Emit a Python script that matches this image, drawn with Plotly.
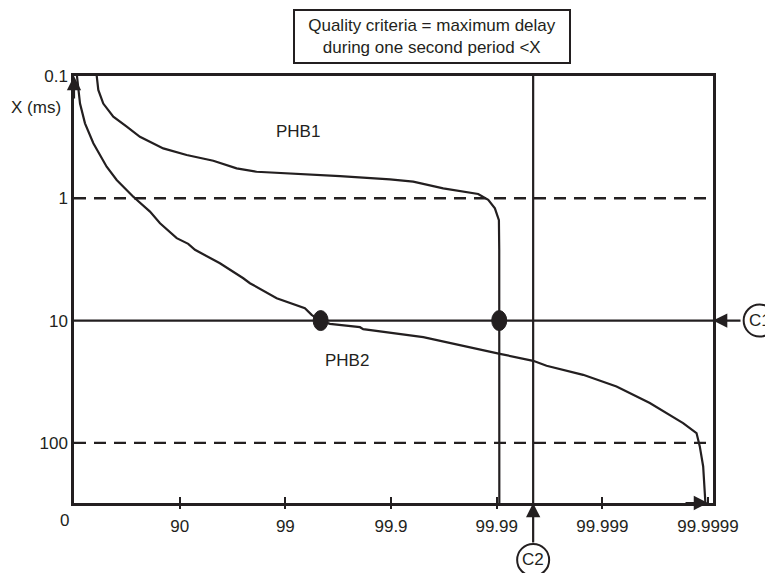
import math
import plotly.graph_objects as go

# ---- data (x in "nines": 0 -> 0 %, 1 -> 90 %, 2 -> 99 %, ... 6 -> 99.9999 %) ----
tick_nines = [1, 2, 3, 4, 5, 6]
tick_labels = ["90", "99", "99.9", "99.99", "99.999", "99.9999"]
y_ticks = [0.1, 1, 10, 100]
y_labels = ["0.1", "1", "10", "100"]

phb1_nines = [0.215, 0.230, 0.277, 0.372, 0.499, 0.624, 0.845, 1.066, 1.318, 1.539,
              1.728, 2.044, 2.517, 2.990, 3.210, 3.494, 3.683, 3.825, 3.920, 3.983,
              4.021, 4.024, 4.025]
phb1_delay = [0.1, 0.130, 0.168, 0.215, 0.260, 0.314, 0.391, 0.443, 0.493, 0.569,
              0.607, 0.625, 0.658, 0.700, 0.732, 0.829, 0.883, 0.922, 1.03, 1.21,
              1.51, 2.64, 310]

phb2_nines = [0.028, 0.057, 0.104, 0.183, 0.309, 0.404, 0.561, 0.577, 0.719, 0.814,
              0.972, 1.081, 1.145, 1.381, 1.602, 1.665, 1.918, 2.107, 2.185, 2.249,
              2.327, 2.422, 2.706, 2.737, 3.305, 4.030, 4.345, 4.472, 4.818, 5.134,
              5.449, 5.764, 5.891, 5.922, 5.954, 5.975]
phb2_delay = [0.1, 0.168, 0.244, 0.355, 0.552, 0.708, 0.970, 1.0, 1.285, 1.60,
              2.12, 2.36, 2.64, 3.40, 4.51, 4.95, 6.56, 7.44, 7.93, 8.98,
              10.0, 10.64, 11.33, 11.76, 13.67, 18.71, 21.34, 23.44, 27.78, 34.6,
              47.3, 68.9, 83.2, 107, 156, 310]

crossing_nines = [2.334, 4.024]
crossing_delay = [10, 10]

c1_delay = 10          # quality criterion X (ms)
c2_nines = 4.345       # required percentile
dashed_levels = [1, 100]

INK = "#231f20"
FONT = "Liberation Sans, Arial, sans-serif"
Y_RANGE = [2.492, -1]   # log10 range, reversed (0.1 ms at top)


def y_paper(v):
    return (math.log10(v) - Y_RANGE[0]) / (Y_RANGE[1] - Y_RANGE[0])


fig = go.Figure()
for xs, ys in [(phb1_nines, phb1_delay), (phb2_nines, phb2_delay)]:
    fig.add_trace(go.Scatter(x=xs, y=ys, mode="lines",
                             line=dict(color=INK, width=2.2), hoverinfo="skip"))

shapes = []
for lv in dashed_levels:
    shapes.append(dict(type="line", xref="paper", x0=0, x1=1, yref="y", y0=lv, y1=lv,
                       line=dict(color=INK, width=2.4, dash="12px,8px")))
shapes.append(dict(type="line", xref="paper", x0=0, x1=1, yref="y", y0=c1_delay, y1=c1_delay,
                   line=dict(color=INK, width=2.2)))
shapes.append(dict(type="line", xref="x", x0=c2_nines, x1=c2_nines, yref="paper", y0=0, y1=1,
                   line=dict(color=INK, width=2.2)))
for cx, cy in zip(crossing_nines, crossing_delay):
    shapes.append(dict(type="circle", xref="x", yref="paper", xsizemode="pixel", ysizemode="pixel",
                       xanchor=cx, yanchor=y_paper(cy), x0=-7.5, x1=7.5, y0=-10, y1=10,
                       fillcolor=INK, line=dict(color=INK, width=1)))
# C1 / C2 circles
C1_X = 1.073
C2_Y = -0.1334
shapes.append(dict(type="circle", xref="paper", yref="paper", xsizemode="pixel", ysizemode="pixel",
                   xanchor=C1_X, yanchor=y_paper(c1_delay), x0=-16, x1=16, y0=-16, y1=16,
                   line=dict(color=INK, width=2), fillcolor="white"))
shapes.append(dict(type="circle", xref="x", yref="paper", xsizemode="pixel", ysizemode="pixel",
                   xanchor=c2_nines, yanchor=C2_Y, x0=-16, x1=16, y0=-16, y1=16,
                   line=dict(color=INK, width=2), fillcolor="white"))

f17 = dict(family=FONT, size=17, color=INK)
arrow = dict(text="", showarrow=True, arrowhead=2, arrowsize=1.3, arrowwidth=2.2, arrowcolor=INK)
txt = dict(showarrow=False, font=f17, yanchor="middle")
ann = [
    dict(text="Quality criteria = maximum delay<br>during one second period &lt;X",
         xref="paper", yref="paper", x=0.5603, y=1.0917, xanchor="center",
         bordercolor=INK, borderwidth=2, borderpad=0, width=274, height=51, bgcolor="white", **txt),
    dict(text="PHB1", xref="paper", yref="paper", x=0.313, y=0.8697, xanchor="left", **txt),
    dict(text="PHB2", xref="paper", yref="paper", x=0.390, y=0.3337, xanchor="left", **txt),
    dict(text="X (ms)", xref="paper", yref="paper", x=-0.1013, y=0.9268, xanchor="left", **txt),
    dict(text="0", xref="paper", yref="paper", x=-0.0156, y=-0.0407, xanchor="center", **txt),
    dict(text="C1", xref="paper", yref="paper", x=C1_X, y=y_paper(c1_delay), xanchor="center", **txt),
    dict(text="C2", xref="x", yref="paper", x=c2_nines, y=C2_Y, xanchor="center", **txt),
    dict(xref="x", yref="paper", x=0, y=1, ax=0, ay=24, **arrow),
    dict(xref="x", yref="paper", x=6, y=0, ax=-24, ay=0, **arrow),
    dict(xref="paper", yref="paper", x=1, y=y_paper(c1_delay), ax=29, ay=0, **arrow),
    dict(xref="x", yref="paper", x=c2_nines, y=0, ax=0, ay=41, **arrow),
]

# page body has an 8px default margin, so the figure is 8px smaller and shifted
fig.update_layout(
    width=765, height=565,
    margin=dict(l=66, r=60, t=68, b=70, pad=0),
    paper_bgcolor="white", plot_bgcolor="white",
    showlegend=False,
    shapes=shapes, annotations=ann,
    xaxis=dict(range=[0, 6.047], tickvals=tick_nines, ticktext=tick_labels,
               ticks="inside", ticklen=6, tickwidth=2.2, tickcolor=INK,
               showline=True, mirror=True, linewidth=2.5, linecolor=INK,
               showgrid=False, zeroline=False, tickfont=f17, ticklabelstandoff=6,
               fixedrange=True),
    xaxis2=dict(range=[0, 6.047], overlaying="x", anchor="y", side="bottom",
                tickvals=tick_nines[:-1], ticks="outside", ticklen=5, tickwidth=2.2,
                tickcolor=INK, showticklabels=False, showline=False, showgrid=False,
                zeroline=False),
    yaxis=dict(type="log", range=Y_RANGE, tickvals=y_ticks, ticktext=y_labels,
               ticks="", showline=True, mirror=True, linewidth=2.5, linecolor=INK,
               showgrid=False, zeroline=False, tickfont=f17, fixedrange=True),
)
fig.add_trace(go.Scatter(x=[0], y=[1], xaxis="x2", mode="markers",
                         marker=dict(opacity=0), hoverinfo="skip"))

fig.write_html("out.html")
